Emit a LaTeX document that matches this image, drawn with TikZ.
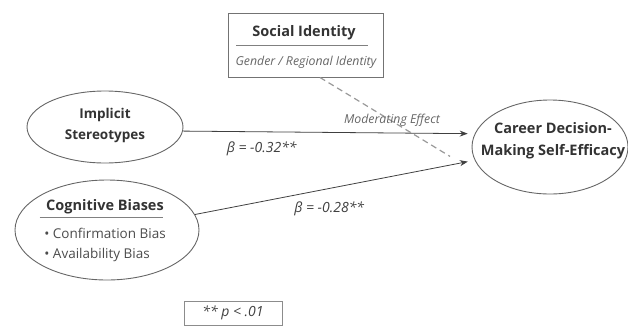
\documentclass[tikz,border=0pt]{standalone}
\usepackage{fontspec}
\setmainfont{Open Sans}
\usetikzlibrary{shapes.geometric,arrows.meta}

\begin{document}
\begin{tikzpicture}[x=1pt,y=-1pt,->,>={Stealth[length=8pt,width=6pt]},shorten >=7pt,
        thick,
        var node/.style={ellipse,draw=black!60,line width=0.9pt,inner sep=0pt},
        head text/.style={font=\bfseries\fontsize{14.5}{22}\selectfont,text=black!80,align=center,inner sep=1pt},
        item text/.style={font=\fontsize{13.5}{15}\selectfont,text=black!70,anchor=west,inner sep=0pt},
        note text/.style={font=\itshape\fontsize{12.3}{14}\selectfont,text=black!60},
        beta text/.style={font=\itshape\fontsize{14}{16}\selectfont,text=black!75}]

        \useasboundingbox (0,0) rectangle (628,327);

        % Define vertices
        \node[var node,minimum width=156pt,minimum height=72pt] (stereo) at (105,127) {};
        \node[head text,font=\bfseries\fontsize{13.5}{21}\selectfont] (stereolbl) at (105,125) {Implicit\\Stereotypes};

        \node[var node,minimum width=184pt,minimum height=100pt] (cog) at (107,230) {};
        \node[head text] (cogtitle) at (105,207) {Cognitive Biases};
        \node[item text] (conf) at (44,233) {• Confirmation Bias};
        \node[item text] (avail) at (44,255) {• Availability Bias};

        \node[var node,minimum width=156pt,minimum height=94pt] (career) at (550,147) {};
        \node[head text] (careerlbl) at (553,141) {Career Decision-\\Making Self-Efficacy};

        \node[draw=black!55,line width=1pt,minimum width=155pt,minimum height=64pt] (social) at (306,45) {};
        \node[head text] (socialtitle) at (304,33) {Social Identity};
        \node[note text] (socialsub) at (306,62) {Gender / Regional Identity};

        \node[draw=black!45,line width=0.8pt,minimum width=98pt,minimum height=24pt,beta text] (pnote) at (233,313) {** p < .01};

        \coordinate (modpt) at (456,160);

        % Draw edges
        \path[every edge/.append style={draw=black!75}]
            (stereo.-3) edge node[pos=.27,below=6pt,beta text] (b1) {β = -0.32**} (career.170)
            (cog.10) edge node[pos=.48,below=10pt,beta text] (b2) {β = -0.28**} (career.190);

        \path[every edge/.append style={draw=black!40,line width=1.2pt,dash pattern=on 6pt off 4pt}]
            ([xshift=14pt]social.south) edge[-] (modpt);
        \node[note text] (modlbl) at (392,120) {Moderating Effect};

        % Rules under headings
        \path[every edge/.append style={draw=black!50,line width=0.6pt}]
            ([xshift=25pt,yshift=13pt]cog.west) edge[-] ([xshift=-29pt,yshift=13pt]cog.east)
            ([xshift=8pt]social.west) edge[-] ([xshift=-9pt]social.east);

        \end{tikzpicture}
\end{document}
